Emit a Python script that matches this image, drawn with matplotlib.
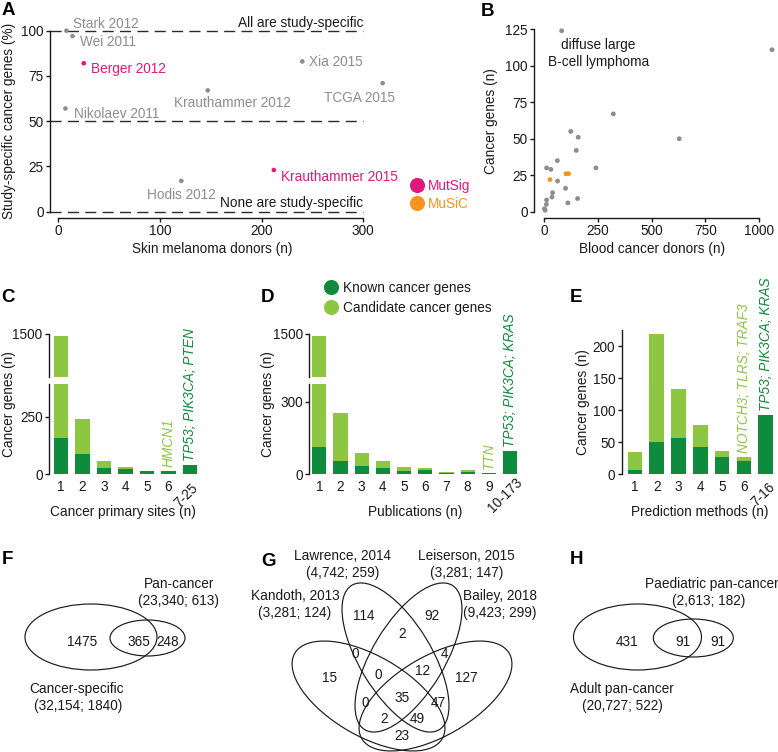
import matplotlib
matplotlib.use('Agg')
import matplotlib.pyplot as plt
from matplotlib.patches import Ellipse

plt.rcParams['font.family'] = ['Liberation Sans', 'DejaVu Sans']
FS = 9.8
plt.rcParams['font.size'] = FS

# ---------------- data ----------------
a_study = ['Stark 2012', 'Wei 2011', 'Berger 2012', 'Nikolaev 2011', 'Krauthammer 2012',
           'Xia 2015', 'TCGA 2015', 'Hodis 2012', 'Krauthammer 2015']
a_donors = [8, 14, 25, 7, 147, 240, 319, 121, 212]
a_percent = [100, 97, 82, 57, 67, 83, 71, 17, 23]
a_tool = ['other', 'other', 'MutSig', 'other', 'other', 'other', 'other', 'other', 'MutSig']

b_donors = [82, 1059, 322, 628, 124, 159, 150, 241, 62, 12, 32, 63, 100, 40, 37, 111, 156, 12, 11, 2, 5,
            28, 102, 114]
b_genes = [124, 111, 67, 50, 55, 51, 42, 30, 35, 30, 29, 21, 16, 13, 10, 6, 9, 8, 5, 2, 1,
           22, 26, 26]
b_tool = ['other'] * 21 + ['MuSiC'] * 3

c_sites = ['1', '2', '3', '4', '5', '6', '7-25']
c_known = [156, 86, 25, 20, 12, 12, 38]
c_candidate = [1334, 153, 32, 12, 0, 1, 0]
c_genes = {5: 'HMCN1', 6: 'TP53; PIK3CA; PTEN'}

d_pubs = ['1', '2', '3', '4', '5', '6', '7', '8', '9', '10-173']
d_known = [110, 53, 33, 23, 12, 16, 5, 7, 4, 95]
d_candidate = [1380, 199, 55, 31, 18, 10, 2, 10, 1, 0]
d_genes = {8: 'TTN', 9: 'TP53; PIK3CA; KRAS'}

e_methods = ['1', '2', '3', '4', '5', '6', '7-16']
e_known = [7, 50, 57, 42, 26, 21, 92]
e_candidate = [28, 169, 76, 35, 10, 6, 0]
e_genes = {5: 'NOTCH3; TLRS; TRAF3', 6: 'TP53; PIK3CA; KRAS'}

f_sets = ['Cancer-specific', '(32,154; 1840)', 'Pan-cancer', '(23,340; 613)']
f_counts = [1475, 365, 248]
g_sets = ['Kandoth, 2013', '(3,281; 124)', 'Lawrence, 2014', '(4,742; 259)',
          'Leiserson, 2015', '(3,281; 147)', 'Bailey, 2018', '(9,423; 299)']
g_counts = [114, 92, 2, 0, 4, 15, 0, 12, 127, 35, 0, 47, 2, 49, 23]
h_sets = ['Adult pan-cancer', '(20,727; 522)', 'Paediatric pan-cancer', '(2,613; 182)']
h_counts = [431, 91, 91]

# ---------------- style ----------------
GRAY = '#8d8d8d'
MAG = '#e0187e'
ORA = '#f7941d'
DG = '#0f8b3d'
LG = '#8dc641'
INK = '#1a1a1a'
TOOLC = {'MutSig': MAG, 'MuSiC': ORA, 'other': GRAY}

W, H = 778, 752
fig = plt.figure(figsize=(W / 100, H / 100), dpi=100)
EM = FS * 100 / 72


def frac_rect(l, t, r, b):
    return [l / W, 1 - b / H, (r - l) / W, (b - t) / H]


def px_axes(l, t, r, b, x0, xs, y0, ys):
    ax = fig.add_axes(frac_rect(l, t, r, b))
    ax.set_xlim((l - x0) / xs, (r - x0) / xs)
    ax.set_ylim((y0 - b) / ys, (y0 - t) / ys)
    ax.patch.set_alpha(0)
    for s in ('top', 'right'):
        ax.spines[s].set_visible(False)
    for s in ('left', 'bottom'):
        ax.spines[s].set_linewidth(1.0)
        ax.spines[s].set_color(INK)
    ax.tick_params(direction='out', length=2.6, width=1.0, labelsize=FS, pad=2, colors=INK)
    return ax


canvas = fig.add_axes([0, 0, 1, 1], zorder=10)
canvas.set_xlim(0, W)
canvas.set_ylim(H, 0)
canvas.axis('off')


def ctext(x, y, s, size=FS, **kw):
    kw.setdefault('ha', 'center')
    kw.setdefault('color', INK)
    canvas.text(x, y + 0.36 * size * 100 / 72, s, va='baseline', fontsize=size, **kw)


def vtext(x, y, s, size=FS, **kw):
    canvas.text(x, y, s, rotation=90, ha='center', va='center', fontsize=size, color=INK, **kw)


# panel letters
for letter, x, y in [('A', 8.5, 15), ('B', 488, 16), ('C', 8.5, 301.5), ('D', 267.5, 301.5),
                     ('E', 576.5, 302), ('F', 7, 564), ('G', 268.5, 566.5), ('H', 577, 564)]:
    canvas.text(x, y, letter, ha='center', va='baseline', fontsize=13.5, fontweight='bold', color='black')

# ---------------- A ----------------
axA = px_axes(50, 18, 395, 218, 58.3, 1.0167, 211.67, 1.81)
axA.spines['left'].set_bounds(0, 100)
axA.spines['bottom'].set_bounds(0, 300)
axA.set_yticks([0, 25, 50, 75, 100])
axA.set_xticks([0, 100, 200, 300])
xl = axA.get_xlim()[0]
axA.hlines([0, 50, 100], xl, 300, colors='#2a2a2a', linewidth=1.0, linestyles=(0, (8, 4.5)), clip_on=False)
axA.scatter(a_donors, a_percent, s=11, c=[TOOLC[t] for t in a_tool], clip_on=False, zorder=3, linewidths=0)
a_label_offsets = [(7, 8, 'left'), (7, -5, 'left'), (7, -5, 'left'), (9, -5, 'left'),
                   (25, -12, 'center'), (7, 0, 'left'), (-23, -14, 'center'), (0, -13, 'center'),
                   (7, -6, 'left')]
for name, x, y, t, (dx, dy, ha) in zip(a_study, a_donors, a_percent, a_tool, a_label_offsets):
    axA.annotate(name, (x, y), xytext=(dx, dy - 0.36 * EM), textcoords='offset pixels', ha=ha,
                 va='baseline', color=TOOLC[t], fontsize=FS, annotation_clip=False)
canvas.text(363, 27.5, 'All are study-specific', ha='right', va='baseline', fontsize=FS, color=INK)
canvas.text(363, 207, 'None are study-specific', ha='right', va='baseline', fontsize=FS, color=INK)
ctext(212, 248, 'Skin melanoma donors (n)')
vtext(9, 121, 'Study-specific cancer genes (%)')

# legend MutSig / MuSiC
for yy, lab, col in [(185, 'MutSig', MAG), (203, 'MuSiC', ORA)]:
    canvas.scatter([417], [yy], s=118, color=col, linewidths=0)
    ctext(427.5, yy, lab, ha='left', color=col)

# ---------------- B ----------------
axB = px_axes(534, 18, 778, 218, 544, 0.2153, 211.67, 1.4587)
axB.spines['left'].set_bounds(0, 125)
axB.spines['bottom'].set_bounds(0, 1000)
axB.set_yticks([0, 25, 50, 75, 100, 125])
axB.set_xticks([0, 250, 500, 750, 1000])
axB.scatter(b_donors, b_genes, s=12, c=[TOOLC[t] for t in b_tool], clip_on=False, zorder=3, linewidths=0)
ctext(598, 44, 'diffuse large')
ctext(599, 61, 'B-cell lymphoma')
ctext(652, 248, 'Blood cancer donors (n)')
vtext(491, 121, 'Cancer genes (n)')


# ---------------- bar helpers ----------------
def draw_bars(ax, known, cand):
    xs = list(range(len(known)))
    ax.bar(xs, known, width=0.67, color=DG, linewidth=0)
    ax.bar(xs, cand, bottom=known, width=0.67, color=LG, linewidth=0)


def cat_labels(ax, labels, rot_dx, rot_dy):
    for i, lab in enumerate(labels):
        if i < len(labels) - 1:
            ax.annotate(lab, (i, 0), xytext=(0, -6), textcoords='offset pixels', ha='center', va='top',
                        fontsize=FS, color=INK, annotation_clip=False)
        else:
            ax.annotate(lab, (i, 0), xytext=(rot_dx, rot_dy), textcoords='offset pixels', ha='right',
                        va='top', rotation=45, rotation_mode='anchor', fontsize=FS, color=INK,
                        annotation_clip=False)


def gene_labels(ax, known, cand, genes):
    for i, txt in genes.items():
        col = DG if cand[i] == 0 else LG
        ax.annotate(txt, (i, known[i] + cand[i]), xytext=(0, 4), textcoords='offset pixels',
                    rotation=90, ha='center', va='bottom', style='italic', color=col, fontsize=FS,
                    annotation_clip=False)


def broken(l, r, x0, xs, ys, lo_tick, known, cand):
    lo = px_axes(l, 384, r, 474, x0, xs, 474, ys)
    hi = px_axes(l, 334, r, 376.7, x0, xs, 334 + 1500 * ys, ys)
    for ax in (lo, hi):
        ax.spines['bottom'].set_visible(False)
        ax.set_xticks([])
        draw_bars(ax, known, cand)
    lo.spines['left'].set_bounds(0, lo.get_ylim()[1])
    hi.spines['left'].set_bounds(hi.get_ylim()[0], 1500)
    lo.set_yticks([0, lo_tick])
    hi.set_yticks([1500])
    return lo, hi


# ---------------- C ----------------
cLo, cHi = broken(49, 201, 61, 21.5, 0.2292, 250, c_known, c_candidate)
cat_labels(cLo, c_sites, 1, -7)
gene_labels(cLo, c_known, c_candidate, c_genes)
ctext(123, 511.5, 'Cancer primary sites (n)')
vtext(9, 404, 'Cancer genes (n)')

# ---------------- D ----------------
dLo, dHi = broken(309.3, 521, 319.3, 21.19, 0.241, 300, d_known, d_candidate)
cat_labels(dLo, d_pubs, 5, -1)
gene_labels(dLo, d_known, d_candidate, d_genes)
ctext(415, 511.5, 'Publications (n)')
vtext(268, 404, 'Cancer genes (n)')
for yy, lab, col in [(286.7, 'Known cancer genes', DG), (307.3, 'Candidate cancer genes', LG)]:
    canvas.scatter([331], [yy], s=118, color=col, linewidths=0)
    ctext(343.3, yy, lab, ha='left')

# ---------------- E ----------------
axE = px_axes(621.7, 330, 778, 474, 635, 21.78, 474, 0.64)
axE.spines['bottom'].set_visible(False)
axE.spines['left'].set_bounds(0, axE.get_ylim()[1])
axE.set_xticks([])
axE.set_yticks([0, 50, 100, 150, 200])
draw_bars(axE, e_known, e_candidate)
cat_labels(axE, e_methods, 2, -6)
gene_labels(axE, e_known, e_candidate, e_genes)
ctext(700, 511.5, 'Prediction methods (n)')
vtext(583, 402, 'Cancer genes (n)')


# ---------------- Venns ----------------
def ell(cx, cy, w, h, ang=0):
    canvas.add_patch(Ellipse((cx, cy), w, h, angle=ang, fill=False, lw=0.85, ec=INK))


# F
ell(91, 637, 132, 66)
ell(147.5, 638, 75, 36)
for (x, y), n in zip([(82, 641), (139, 641), (168, 641)], f_counts):
    ctext(x, y, str(n))
ctext(179, 583.3, f_sets[2])
ctext(179, 600, f_sets[3])
ctext(77, 688, f_sets[0])
ctext(78, 705, f_sets[1])

# H
ell(637.5, 637, 128, 66)
ell(693.3, 638, 80, 38)
for (x, y), n in zip([(627, 641), (682.5, 641), (718, 641)], h_counts):
    ctext(x, y, str(n))
ctext(711.5, 583.3, h_sets[2])
ctext(709, 600, h_sets[3])
ctext(622, 688, h_sets[0])
ctext(622, 705, h_sets[1])

# G
X0 = 402
ell(X0 - 33.5, 696, 170.4, 80.2, 30)      # Kandoth
ell(X0 - 6.5, 657.5, 168.8, 72, 58.8)     # Lawrence
ell(X0 + 6.5, 657.5, 168.8, 72, -58.8)    # Leiserson
ell(X0 + 33.5, 696, 170.4, 80.2, -30)     # Bailey
g_pos = [(363.3, 615), (431.7, 615), (401.7, 633.3), (355, 653.3), (445, 653.3), (330, 676.7),
         (378.3, 674), (422.5, 670), (466.7, 676.7), (401.7, 697), (365, 702.5), (438.3, 702),
         (384, 718.3), (417.5, 718.3), (401.7, 735)]
for (x, y), n in zip(g_pos, g_counts):
    ctext(x, y, str(n))
ctext(295, 595, g_sets[0])
ctext(295, 611.7, g_sets[1])
ctext(342.7, 555, g_sets[2])
ctext(342.7, 571.7, g_sets[3])
ctext(466.7, 555, g_sets[4])
ctext(466.7, 571.7, g_sets[5])
ctext(500, 595, g_sets[6])
ctext(500, 611.7, g_sets[7])

fig.savefig('out.png', dpi=100)
